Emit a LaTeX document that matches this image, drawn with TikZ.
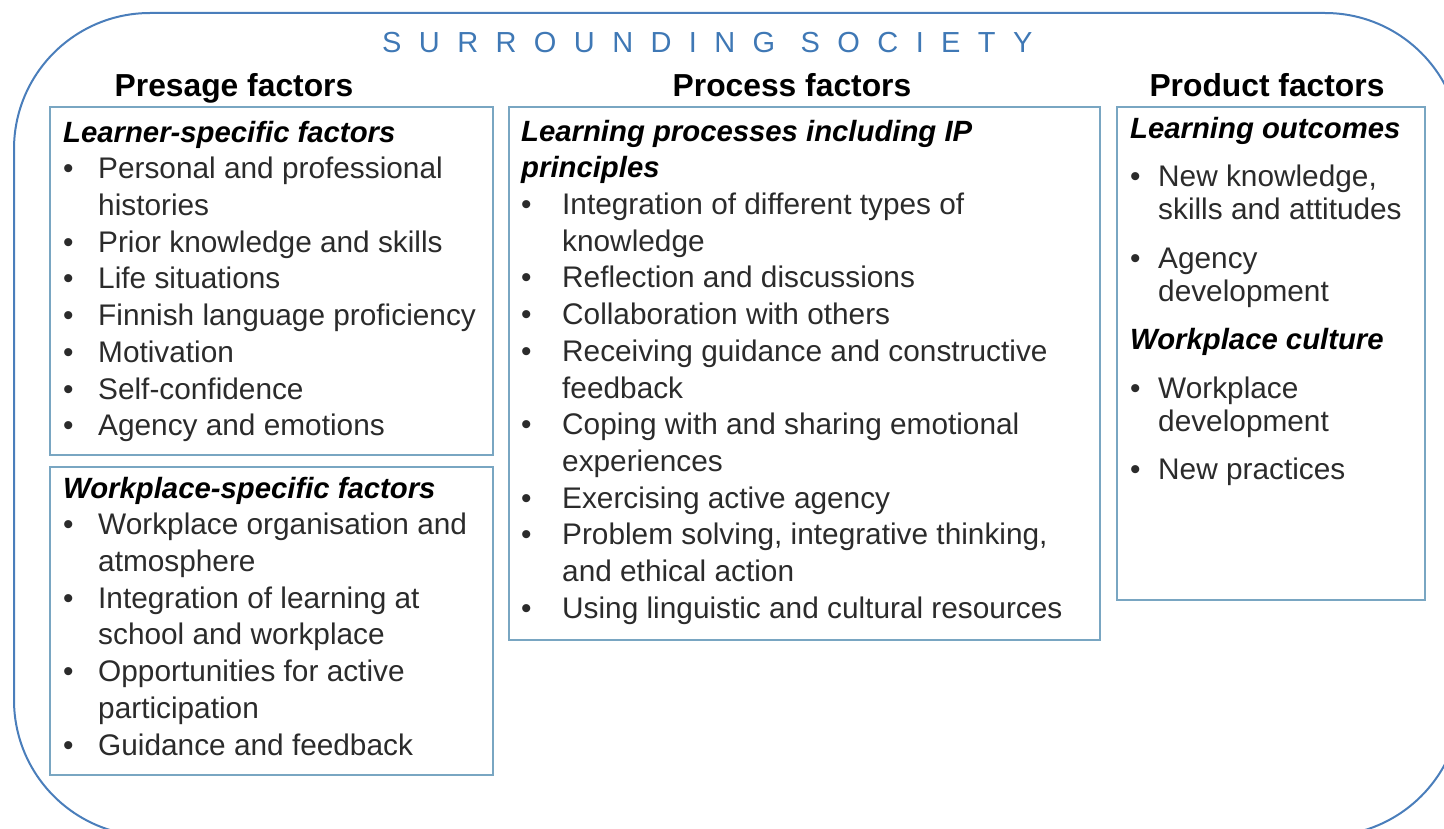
\documentclass[tikz,border=0pt]{standalone}
\usepackage{fontspec}
\setmainfont{Liberation Sans}
\newfontfamily\titlefont[LetterSpace=60]{Liberation Sans}
\definecolor{outerblue}{HTML}{4A7EBB}
\definecolor{titleblue}{HTML}{3F78B5}
\definecolor{panelblue}{HTML}{79A6C2}
\definecolor{itemgray}{HTML}{2B2B2B}
\newlength\bw
\newcommand\bi{\makebox[\bw][l]{\textbullet}}
\newcommand\ci{\hspace*{\bw}}
\newcommand\subhead[1]{{\color{black}\fontsize{29.3}{36.7}\selectfont\bfseries\itshape #1}}
\tikzset{
  panel/.style={draw=panelblue, line width=2pt, inner sep=0pt, outer sep=0pt, anchor=north west},
  outerframe/.style={draw=outerblue, line width=2pt, rounded corners=136pt},
  colhead/.style={font=\fontsize{31.8}{38}\selectfont\bfseries, text=black, inner sep=0pt, anchor=base},
  content/.style={font=\fontsize{29.8}{36.7}\selectfont, text=itemgray, inner sep=0pt, anchor=north west},
  prodcontent/.style={font=\fontsize{29.8}{33}\selectfont, text=itemgray, inner sep=0pt, anchor=north west},
  titlest/.style={font=\titlefont\fontsize{29}{34}\selectfont, text=titleblue, inner sep=0pt, anchor=base west},
}
\begin{document}
\begin{tikzpicture}[x=1pt,y=-1pt]
\useasboundingbox (0,0) rectangle (1444,829);
\begin{scope}
  \clip (0,0) rectangle (1444,829);
  \draw[outerframe] (14,13) rectangle (1461,836);
\end{scope}

\node[titlest] (title) at (382,53) {SURROUNDING SOCIETY};

\node[colhead] (presage) at (234,97) {Presage factors};
\node[colhead] (process) at (792,97) {Process factors};
\node[colhead] (product) at (1267,97) {Product factors};

\node[panel, minimum width=443pt, minimum height=348pt] (learnerbox) at (50,107) {};
\node[panel, minimum width=443pt, minimum height=308pt] (workbox) at (50,467) {};
\node[panel, minimum width=591pt, minimum height=533pt] (processbox) at (509,107) {};
\node[panel, minimum width=308pt, minimum height=493pt] (productbox) at (1117,107) {};

\node[content] (learnertext) at (63,116.3) {\setlength\bw{35pt}%
\begin{tabular}{@{}l@{}}
\subhead{Learner-specific factors}\\
\bi Personal and professional\\
\ci histories\\
\bi Prior knowledge and skills\\
\bi Life situations\\
\bi Finnish language proficiency\\
\bi Motivation\\
\bi Self-confidence\\
\bi Agency and emotions
\end{tabular}};

\node[content] (worktext) at (63,472.3) {\setlength\bw{35pt}%
\begin{tabular}{@{}l@{}}
\subhead{Workplace-specific factors}\\
\bi Workplace organisation and\\
\ci atmosphere\\
\bi Integration of learning at\\
\ci school and workplace\\
\bi Opportunities for active\\
\ci participation\\
\bi Guidance and feedback
\end{tabular}};

\node[content] (processtext) at (521,115.3) {\setlength\bw{41pt}%
\begin{tabular}{@{}l@{}}
\subhead{Learning processes including IP}\\
\subhead{principles}\\
\bi Integration of different types of\\
\ci knowledge\\
\bi Reflection and discussions\\
\bi Collaboration with others\\
\bi Receiving guidance and constructive\\
\ci feedback\\
\bi Coping with and sharing emotional\\
\ci experiences\\
\bi Exercising active agency\\
\bi Problem solving, integrative thinking,\\
\ci and ethical action\\
\bi Using linguistic and cultural resources
\end{tabular}};

\node[prodcontent] (producttext) at (1130,114.9) {\setlength\bw{28pt}%
\begin{tabular}{@{}l@{}}
\subhead{Learning outcomes}\\[15.5pt]
\bi New knowledge,\\
\ci skills and attitudes\\[15.5pt]
\bi Agency\\
\ci development\\[15.5pt]
\subhead{Workplace culture}\\[15.5pt]
\bi Workplace\\
\ci development\\[15.5pt]
\bi New practices
\end{tabular}};
\end{tikzpicture}
\end{document}
